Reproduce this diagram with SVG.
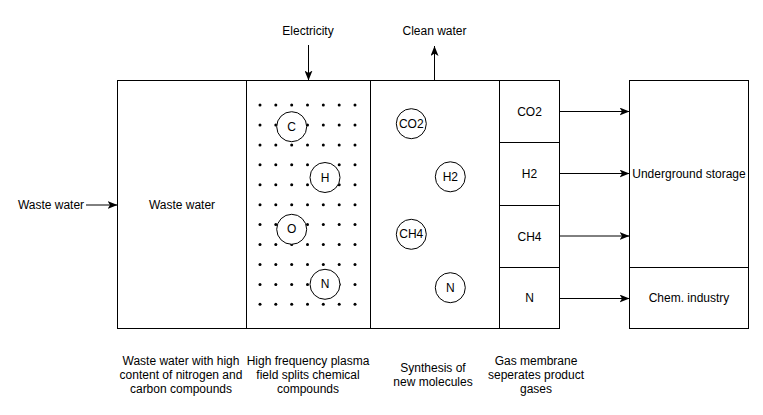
<svg xmlns="http://www.w3.org/2000/svg" xmlns:xlink="http://www.w3.org/1999/xlink" width="763" height="415" viewBox="0 0 763 415">
<style>
  .box { fill: #ffffff; stroke: #000000; stroke-width: 1; }
  .mol { fill: #ffffff; stroke: #000000; stroke-width: 1; }
  .t { font-family: "Liberation Sans", Arial, Helvetica, sans-serif; font-size: 12px; fill: #000000; text-anchor: middle; }
  .edge { fill: none; stroke: #000000; stroke-width: 1; }
  .dot { fill: #000000; }
</style>
<defs>
  <marker id="arrow" viewBox="0 0 10 8" refX="10" refY="4" markerWidth="10" markerHeight="8" markerUnits="userSpaceOnUse" orient="auto">
    <path d="M0,0 L10,4 L0,8 L2.5,4 Z" fill="#000000"/>
  </marker>
  <g id="dotrow">
    <circle class="dot" cx="260" cy="0" r="1.5"/>
    <circle class="dot" cx="275.8" cy="0" r="1.5"/>
    <circle class="dot" cx="291.7" cy="0" r="1.5"/>
    <circle class="dot" cx="307.5" cy="0" r="1.5"/>
    <circle class="dot" cx="323.3" cy="0" r="1.5"/>
    <circle class="dot" cx="339.2" cy="0" r="1.5"/>
    <circle class="dot" cx="355" cy="0" r="1.5"/>
  </g>
</defs>
<rect width="763" height="415" fill="#ffffff"/>

<g id="waste-water-box">
  <rect class="box" x="117.5" y="80.5" width="129" height="248"/>
  <text class="t" x="182" y="209">Waste water</text>
</g>

<g id="plasma-box">
  <rect class="box" x="246.5" y="80.5" width="124" height="248"/>
  <g id="plasma-dots">
    <use xlink:href="#dotrow" y="105"/>
    <use xlink:href="#dotrow" y="124.9"/>
    <use xlink:href="#dotrow" y="144.9"/>
    <use xlink:href="#dotrow" y="164.8"/>
    <use xlink:href="#dotrow" y="184.7"/>
    <use xlink:href="#dotrow" y="204.7"/>
    <use xlink:href="#dotrow" y="224.6"/>
    <use xlink:href="#dotrow" y="244.5"/>
    <use xlink:href="#dotrow" y="264.4"/>
    <use xlink:href="#dotrow" y="284.4"/>
    <use xlink:href="#dotrow" y="304.3"/>
  </g>
</g>
<g id="atom-C"><circle class="mol" cx="291.7" cy="126.7" r="15"/><text class="t" x="291.7" y="130.7">C</text></g>
<g id="atom-H"><circle class="mol" cx="325" cy="177.5" r="15"/><text class="t" x="325" y="181.5">H</text></g>
<g id="atom-O"><circle class="mol" cx="291.7" cy="229.3" r="15"/><text class="t" x="291.7" y="233.3">O</text></g>
<g id="atom-N"><circle class="mol" cx="325" cy="284.3" r="15"/><text class="t" x="325" y="288.3">N</text></g>

<g id="synthesis-box">
  <rect class="box" x="370.5" y="80.5" width="129" height="248"/>
</g>
<g id="mol-CO2"><circle class="mol" cx="411.3" cy="123.7" r="15"/><text class="t" x="411.3" y="127.7">CO2</text></g>
<g id="mol-H2"><circle class="mol" cx="450.3" cy="176.8" r="15"/><text class="t" x="450.3" y="180.8">H2</text></g>
<g id="mol-CH4"><circle class="mol" cx="411.3" cy="234.3" r="15"/><text class="t" x="411.3" y="238.3">CH4</text></g>
<g id="mol-N"><circle class="mol" cx="450.3" cy="287.7" r="15"/><text class="t" x="450.3" y="291.7">N</text></g>

<g id="gas-CO2"><rect class="box" x="499.5" y="80.5" width="60" height="62"/><text class="t" x="529.5" y="115.5">CO2</text></g>
<g id="gas-H2"><rect class="box" x="499.5" y="142.5" width="60" height="63"/><text class="t" x="529.5" y="178">H2</text></g>
<g id="gas-CH4"><rect class="box" x="499.5" y="205.5" width="60" height="62"/><text class="t" x="529.5" y="240.5">CH4</text></g>
<g id="gas-N"><rect class="box" x="499.5" y="267.5" width="60" height="61"/><text class="t" x="529.5" y="302">N</text></g>

<g id="underground-storage"><rect class="box" x="629.5" y="80.5" width="119" height="187"/><text class="t" x="689" y="178">Underground storage</text></g>
<g id="chem-industry"><rect class="box" x="629.5" y="267.5" width="119" height="61"/><text class="t" x="689" y="302">Chem. industry</text></g>

<g id="label-waste-water-in"><text class="t" x="51" y="209">Waste water</text></g>
<g id="label-electricity"><text class="t" x="308" y="34.5">Electricity</text></g>
<g id="label-clean-water"><text class="t" x="434.5" y="34.5">Clean water</text></g>

<g id="caption-waste-water">
  <text class="t" x="181" y="365">Waste water with high</text>
  <text class="t" x="181" y="379">content of nitrogen and</text>
  <text class="t" x="181" y="393">carbon compounds</text>
</g>
<g id="caption-plasma">
  <text class="t" x="308" y="365">High frequency plasma</text>
  <text class="t" x="308" y="379">field splits chemical</text>
  <text class="t" x="308" y="393">compounds</text>
</g>
<g id="caption-synthesis">
  <text class="t" x="433" y="372">Synthesis of</text>
  <text class="t" x="433" y="386">new molecules</text>
</g>
<g id="caption-membrane">
  <text class="t" x="536" y="365">Gas membrane</text>
  <text class="t" x="536" y="379">seperates product</text>
  <text class="t" x="536" y="393">gases</text>
</g>

<g id="connectors">
  <line class="edge" x1="86" y1="205" x2="117.5" y2="205" marker-end="url(#arrow)"/>
  <line class="edge" x1="308.5" y1="45" x2="308.5" y2="80.5" marker-end="url(#arrow)"/>
  <line class="edge" x1="434.5" y1="80.5" x2="434.5" y2="46" marker-end="url(#arrow)"/>
  <line class="edge" x1="559.5" y1="111.5" x2="629.5" y2="111.5" marker-end="url(#arrow)"/>
  <line class="edge" x1="559.5" y1="173.5" x2="629.5" y2="173.5" marker-end="url(#arrow)"/>
  <line class="edge" x1="559.5" y1="236" x2="629.5" y2="236" marker-end="url(#arrow)"/>
  <line class="edge" x1="559.5" y1="298.5" x2="629.5" y2="298.5" marker-end="url(#arrow)"/>
</g>
</svg>
